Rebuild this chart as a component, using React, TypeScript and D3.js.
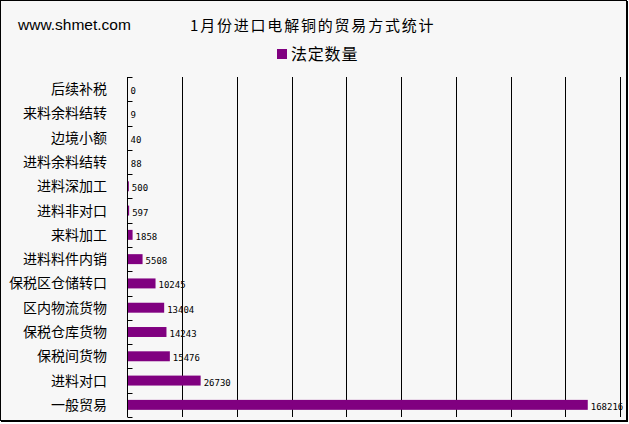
import * as d3 from "d3";

const categories = [
  "后续补税",
  "来料余料结转",
  "边境小额",
  "进料余料结转",
  "进料深加工",
  "进料非对口",
  "来料加工",
  "进料料件内销",
  "保税区仓储转口",
  "区内物流货物",
  "保税仓库货物",
  "保税间货物",
  "进料对口",
  "一般贸易",
];
const values = [0, 9, 40, 88, 500, 597, 1858, 5508, 10245, 13404, 14243, 15476, 26730, 168216];
const gridTicks = [20000, 40000, 60000, 80000, 100000, 120000, 140000, 160000, 180000];

const W = 629;
const H = 424;
const BAR = "#800080";
const CJK = "'Noto Sans CJK SC', sans-serif";

export default function App() {
  const margin = { top: 77, right: 9, bottom: 7, left: 127.5 };
  const x = d3.scaleLinear().domain([0, 180000]).range([margin.left, W - margin.right]);
  const y = d3
    .scaleBand<string>()
    .domain(categories)
    .range([margin.top, H - margin.bottom])
    .padding(0);
  const step = y.step();
  const barH = step * 0.41;

  return (
    <svg
      width={W}
      height={H}
      style={{ position: "absolute", left: 0, top: 0, background: "#fff" }}
    >
      {/* frame */}
      <rect x={0.5} y={0.5} width={626} height={420} fill="#f7f7f7" stroke="#000" />
      <line x1={627.5} y1={1} x2={627.5} y2={422} stroke="#000" />
      <line x1={1} y1={421.5} x2={628} y2={421.5} stroke="#000" />

      <text x={18} y={30} fontFamily="'Liberation Sans', Arial, sans-serif" fontSize={15.5} fill="#000">
        www.shmet.com
      </text>
      <text x={190} y={31} fontFamily={CJK} fontSize={15} letterSpacing={1.8} fill="#000">
        1月份进口电解铜的贸易方式统计
      </text>

      {/* legend */}
      <rect x={277} y={49} width={10} height={10} fill={BAR} />
      <text x={291} y={60} fontFamily={CJK} fontSize={16} letterSpacing={0.8} fill="#000">
        法定数量
      </text>

      {/* vertical grid */}
      {gridTicks.map((t) => (
        <line
          key={t}
          x1={Math.round(x(t)) + 0.5}
          x2={Math.round(x(t)) + 0.5}
          y1={margin.top}
          y2={H - margin.bottom}
          stroke="#000"
        />
      ))}

      {/* bars */}
      {categories.map((c, i) => {
        const cy = (y(c) ?? 0) + step / 2;
        return (
          <g key={c}>
            <rect
              x={x(0)}
              y={cy - barH / 2}
              width={Math.max(0, x(values[i]) - x(0))}
              height={barH}
              fill={BAR}
            />
            <text
              x={x(values[i]) + 3}
              y={cy + 5}
              fontFamily="'DejaVu Sans Mono', monospace"
              fontSize={9}
              fill="#000"
            >
              {values[i]}
            </text>
            <text
              x={107}
              y={cy + 5}
              textAnchor="end"
              fontFamily={CJK}
              fontSize={14}
              fill="#000"
            >
              {c}
            </text>
          </g>
        );
      })}

      {/* category axis */}
      <line x1={x(0)} x2={x(0)} y1={margin.top} y2={H - margin.bottom} stroke="#000" />
      {d3.range(categories.length + 1).map((i) => {
        const ty = Math.round(margin.top + i * step) + 0.5;
        return <line key={i} x1={x(0)} x2={x(0) + 5} y1={ty} y2={ty} stroke="#000" />;
      })}
    </svg>
  );
}
